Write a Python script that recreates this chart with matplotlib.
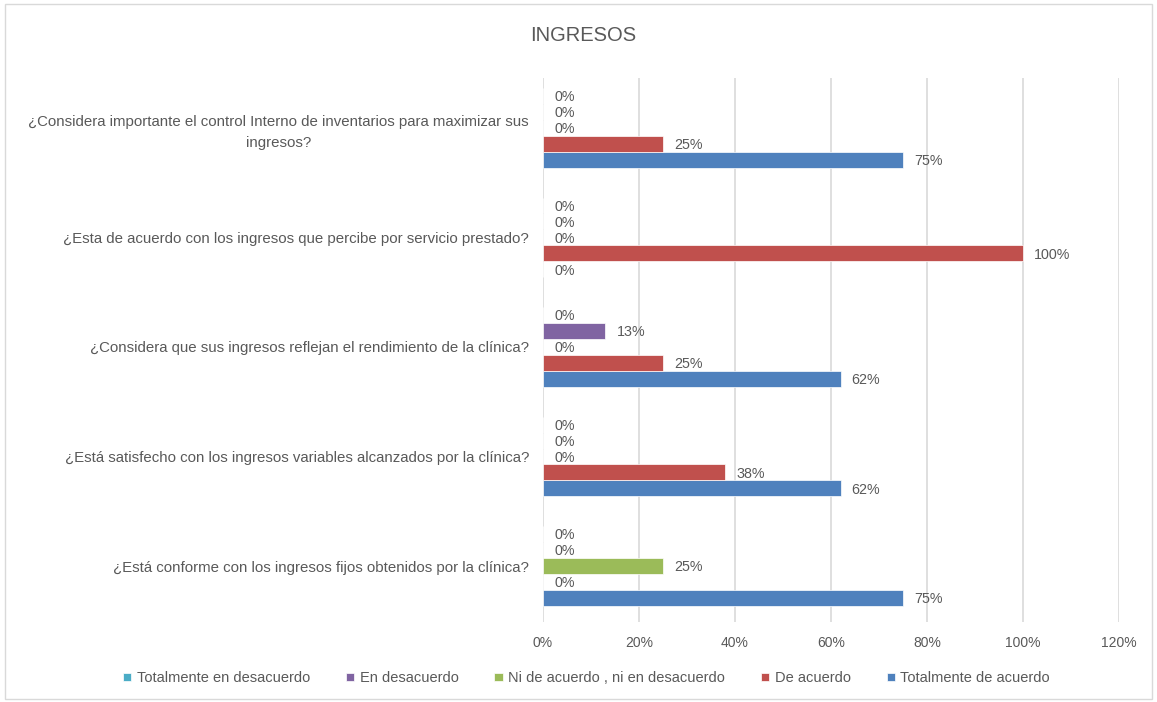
import matplotlib
matplotlib.use("Agg")
import matplotlib.pyplot as plt
from matplotlib.patches import Rectangle
import numpy as np

categories = [
    "¿Está conforme con los ingresos fijos obtenidos por la clínica?",
    "¿Está satisfecho con los ingresos variables alcanzados por la clínica?",
    "¿Considera que sus ingresos reflejan el rendimiento de la clínica?",
    "¿Esta de acuerdo con los ingresos que percibe por servicio prestado?",
    "¿Considera importante el control Interno de inventarios para maximizar sus\ningresos?",
]
series_names = ["Totalmente de acuerdo", "De acuerdo", "Ni de acuerdo , ni en desacuerdo",
                "En desacuerdo", "Totalmente en desacuerdo"]
totalmente_de_acuerdo = [75, 62, 62, 0, 75]
de_acuerdo = [0, 38, 25, 100, 25]
ni_ni = [25, 0, 0, 0, 0]
en_desacuerdo = [0, 0, 13, 0, 0]
totalmente_en_desacuerdo = [0, 0, 0, 0, 0]
xticks = [0, 20, 40, 60, 80, 100, 120]

values = [totalmente_de_acuerdo, de_acuerdo, ni_ni, en_desacuerdo, totalmente_en_desacuerdo]
colors = ["#4F81BD", "#C0504D", "#9BBB59", "#8064A2", "#4BACC6"]

plt.rcParams['font.family'] = ['Liberation Sans', 'DejaVu Sans']
txt = "#595959"

fig = plt.figure(figsize=(11.57, 7.02), dpi=100)
fig.patches.append(Rectangle((0.004, 0.004), 0.992, 0.99, transform=fig.transFigure,
                             fill=False, edgecolor="#D9D9D9", linewidth=1.0))
ax = fig.add_axes([0.4693, 0.114, 0.4978, 0.775])

y = np.arange(len(categories))
h = 0.146
handles = []
for i, (vals, c, name) in enumerate(zip(values, colors, series_names)):
    off = (i - 2) * h
    bars = ax.barh(y + off, vals, height=h, color=c, edgecolor="white", linewidth=0.5, label=name, zorder=3)
    handles.append(bars)
    for yy, v in zip(y + off, vals):
        ax.annotate(f"{v}%", (v, yy), xytext=(8, -1), textcoords="offset points",
                    ha="left", va="center", fontsize=10.3, color=txt, zorder=4)

ax.set_xlim(0, 120)
ax.set_ylim(-0.511, 4.457)
ax.set_xticks(xticks)
ax.set_xticklabels([f"{t}%" for t in xticks], fontsize=10, color=txt)
ax.set_yticks(y)
ax.set_yticklabels(categories, fontsize=10.8, color=txt, multialignment="center", linespacing=1.55)
ax.tick_params(axis="both", length=0)
ax.tick_params(axis="x", pad=10)
ax.tick_params(axis="y", pad=10)
ax.grid(axis="x", color="#D9D9D9", linewidth=1.2, zorder=0)
for s in ax.spines.values():
    s.set_visible(False)

fig.text(0.504, 0.949, "INGRESOS", ha="center", va="center", fontsize=14.5, color=txt)

leg_order = [4, 3, 2, 1, 0]
fig.legend([handles[i] for i in leg_order], [series_names[i] for i in leg_order],
           loc="center", bbox_to_anchor=(0.507, 0.034), ncol=5, frameon=False,
           fontsize=10.5, labelcolor=txt, handlelength=0.55, handleheight=0.55,
           handletextpad=0.4, columnspacing=2.45)

fig.savefig("out.png", dpi=100)
